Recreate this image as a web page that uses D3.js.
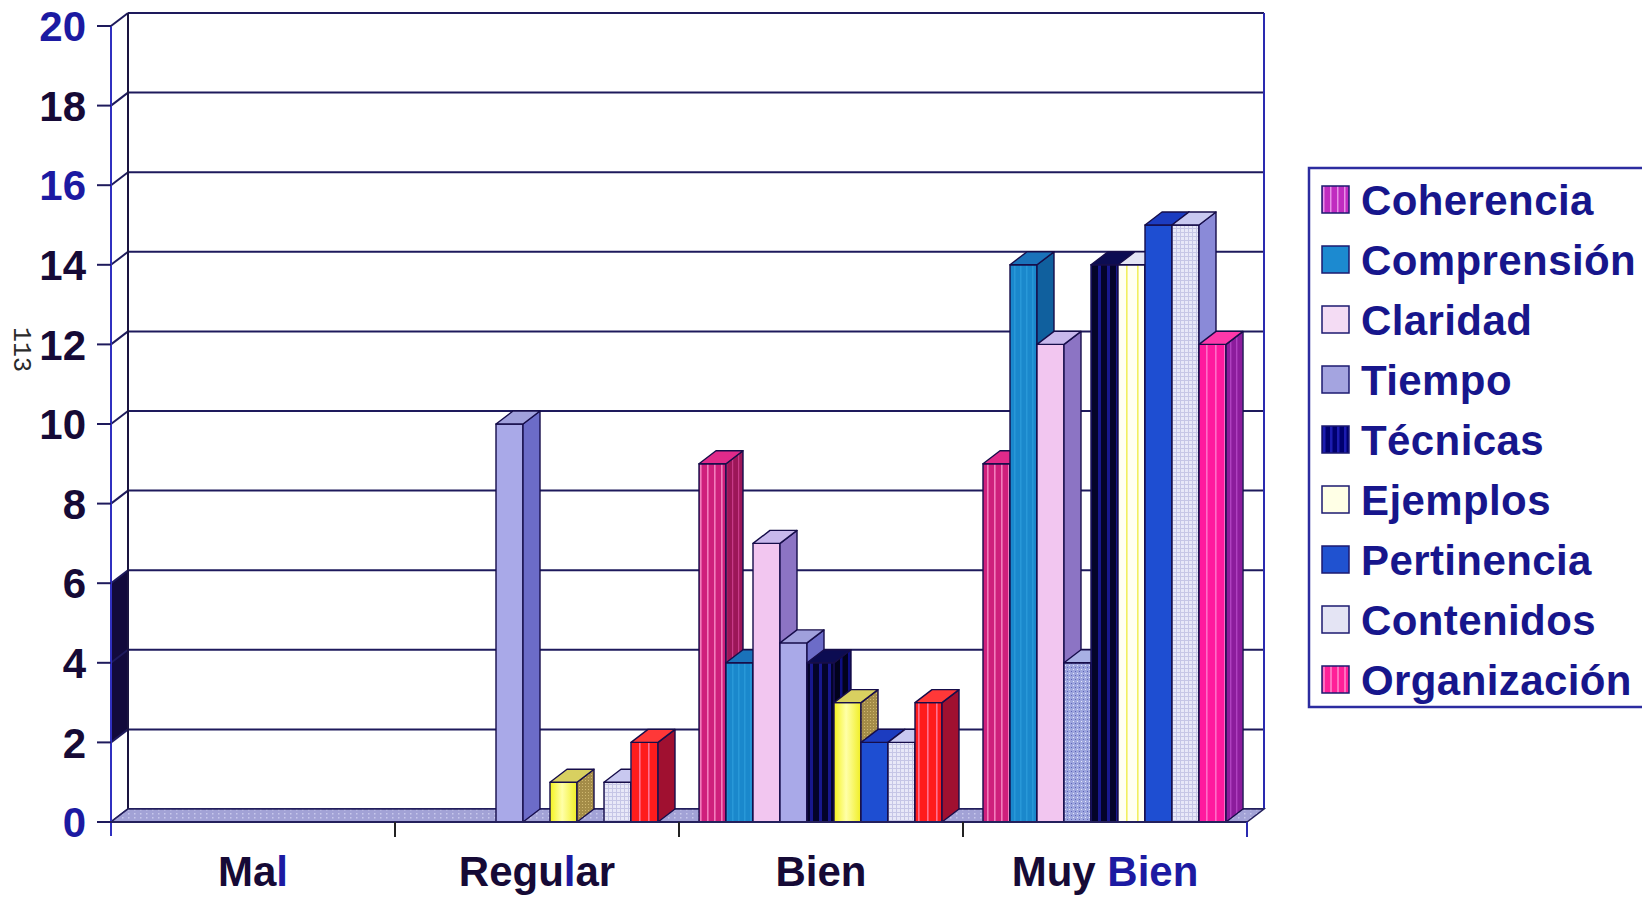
<!DOCTYPE html>
<html>
<head>
<meta charset="utf-8">
<script src="https://cdn.jsdelivr.net/npm/d3@7"></script>
<style>
  html, body { margin: 0; padding: 0; background: #fff; }
  svg { display: block; }
</style>
</head>
<body>
<svg id="chart" width="1642" height="897"></svg>
<script>
// ---- data ----
const categories = ["Mal", "Regular", "Bien", "Muy Bien"];
const seriesNames = ["Coherencia", "Comprensión", "Claridad", "Tiempo", "Técnicas",
                     "Ejemplos", "Pertinencia", "Contenidos", "Organización"];
const coherencia   = [0, 0, 9, 9];
const comprension  = [0, 0, 4, 14];
const claridad     = [0, 0, 7, 12];
const tiempo       = [0, 10, 4.5, 4];
const tecnicas     = [0, 0, 4, 14];
const ejemplos     = [0, 1, 3, 14];
const pertinencia  = [0, 0, 2, 15];
const contenidos   = [0, 1, 2, 15];
const organizacion = [0, 2, 3, 12];
const yTickValues  = [0, 2, 4, 6, 8, 10, 12, 14, 16, 18, 20];
const wallBand     = [2, 6];   // shaded strip on the left wall

const values = [coherencia, comprension, claridad, tiempo, tecnicas,
                ejemplos, pertinencia, contenidos, organizacion];

// ---- styles ----
const INK = "#160d4a";
const seriesStyle = [
  { front: "url(#p-coh)",  side: "url(#p-coh-s)", top: "#e02a8a", legend: "url(#l-coh)" },
  { front: "url(#p-comp)", side: "#10609e",       top: "#1a72ba", legend: "#1c8ad0" },
  { front: "#f2c6f0",      side: "#8c74c4",       top: "#c8b8ec", legend: "#f4dcf4" },
  { front: "#a9a9e8",      side: "#6c6cc8",       top: "#a0a0dc", legend: "#a4a4e0" },
  { front: "url(#p-tec)",  side: "url(#p-tec-s)", top: "#0c0c52", legend: "url(#l-tec)" },
  { front: "url(#g-ejem)", side: "url(#p-ejem-s)",top: "#d8d060", legend: "#ffffe6" },
  { front: "#1e4ed2",      side: "#1434a8",       top: "#1c3cc0", legend: "#2052d0" },
  { front: "url(#p-cont)", side: "#8a8ad8",       top: "#c8c8f0", legend: "#e4e4f4" },
  { front: "url(#p-org)",  side: "#a01030",       top: "#ff3838", legend: "url(#l-org)" }
];
// some series take a different tint in the last category
const categoryStyle = {
  "Muy Bien": {
    "Tiempo":       { front: "url(#p-tie-mb)", side: "#6c6cc8", top: "#a8b0e4" },
    "Ejemplos":     { front: "url(#p-ejem-mb)", side: "#c8c880", top: "#e4e4f4" },
    "Organización": { front: "url(#p-org-mb)", side: "url(#p-org-mb-s)", top: "#ff38aa" }
  }
};
function styleFor(si, cat) {
  const o = categoryStyle[cat] && categoryStyle[cat][seriesNames[si]];
  return Object.assign({}, seriesStyle[si], o || {});
}

// ---- geometry ----
const DX = 17, DY = -13;               // depth offset of the 3-D walls
const x = d3.scaleBand().domain(categories).range([111, 1247]);
const inner = d3.scaleBand().domain(seriesNames).range([20, 263]);
const y = d3.scaleLinear().domain([0, 20]).range([822, 26]);

const svg = d3.select("#chart");
const defs = svg.append("defs");

function stripes(id, base, stripe, period, sw, offset = 0) {
  const p = defs.append("pattern").attr("id", id)
    .attr("patternUnits", "userSpaceOnUse").attr("width", period).attr("height", 8);
  p.append("rect").attr("width", period).attr("height", 8).attr("fill", base);
  p.append("rect").attr("x", offset).attr("width", sw).attr("height", 8).attr("fill", stripe);
}
stripes("p-coh", "#cf1f7c", "#f27cbc", 7, 1.6);
stripes("p-coh-s", "#9c1658", "#c83a88", 6, 1.2);
stripes("p-comp", "#1a88cc", "#2898d8", 6, 1.5);
stripes("p-tec", "#04042a", "#18188e", 9, 3);
stripes("p-tec-s", "#02021c", "#0e0e80", 8, 2.5);
stripes("p-org", "#ff1c1c", "#ff7090", 9, 1.6);
stripes("p-org-mb", "#ff1a9e", "#ff6cc8", 9, 1.6);
stripes("p-org-mb-s", "#8c1c9c", "#b040c0", 6, 1.4);
stripes("p-ejem-mb", "#fffff2", "#f2f060", 11, 1.6, 4);
stripes("l-coh", "#c02cc0", "#e890e8", 7, 1.5);
stripes("l-tec", "#00006e", "#1c1cb0", 7, 2.5);
stripes("l-org", "#ff2098", "#ff70c0", 7, 2);

// dotted / gridded textures
(function () {
  const p = defs.append("pattern").attr("id", "p-cont")
    .attr("patternUnits", "userSpaceOnUse").attr("width", 4).attr("height", 4);
  p.append("rect").attr("width", 4).attr("height", 4).attr("fill", "#e8e8f8");
  p.append("rect").attr("width", 4).attr("height", 1).attr("fill", "#c6c6e6");
  p.append("rect").attr("width", 1).attr("height", 4).attr("fill", "#c6c6e6");

  const q = defs.append("pattern").attr("id", "p-tie-mb")
    .attr("patternUnits", "userSpaceOnUse").attr("width", 4).attr("height", 4);
  q.append("rect").attr("width", 4).attr("height", 4).attr("fill", "#9ea6de");
  q.append("rect").attr("x", 1).attr("y", 1).attr("width", 1).attr("height", 1).attr("fill", "#e4e8fa");
  q.append("rect").attr("x", 3).attr("y", 3).attr("width", 1).attr("height", 1).attr("fill", "#5c64b8");

  const f = defs.append("pattern").attr("id", "p-floor")
    .attr("patternUnits", "userSpaceOnUse").attr("width", 6).attr("height", 4);
  f.append("rect").attr("width", 6).attr("height", 4).attr("fill", "#a2a2d6");
  f.append("rect").attr("x", 2).attr("y", 1).attr("width", 1.5).attr("height", 1.5).attr("fill", "#c8c8ec");

  const s = defs.append("pattern").attr("id", "p-ejem-s")
    .attr("patternUnits", "userSpaceOnUse").attr("width", 3).attr("height", 3);
  s.append("rect").attr("width", 3).attr("height", 3).attr("fill", "#a48c48");
  s.append("rect").attr("width", 1).attr("height", 1).attr("fill", "#d0b870");

  const g = defs.append("linearGradient").attr("id", "g-ejem");
  g.append("stop").attr("offset", "0%").attr("stop-color", "#f4f21e");
  g.append("stop").attr("offset", "45%").attr("stop-color", "#ffffa8");
  g.append("stop").attr("offset", "100%").attr("stop-color", "#f0ee24");
})();

const [x0, x1] = x.range();
const y0 = y(0);

// ---- walls and gridlines ----
const walls = svg.append("g");
// shaded strip on the left wall
walls.append("path")
  .attr("d", `M${x0},${y(wallBand[1])} L${x0 + DX},${y(wallBand[1]) + DY} L${x0 + DX},${y(wallBand[0]) + DY} L${x0},${y(wallBand[0])} Z`)
  .attr("fill", "#120a3c");

yTickValues.forEach(t => {
  walls.append("line")
    .attr("x1", x0 + DX).attr("x2", x1 + DX)
    .attr("y1", y(t) + DY).attr("y2", y(t) + DY)
    .attr("stroke", "#1e1a5c").attr("stroke-width", 2);
  walls.append("line")
    .attr("x1", x0).attr("x2", x0 + DX)
    .attr("y1", y(t)).attr("y2", y(t) + DY)
    .attr("stroke", "#1e1a5c").attr("stroke-width", 2);
});
walls.append("line")
  .attr("x1", x0 + DX).attr("x2", x0 + DX)
  .attr("y1", y(20) + DY).attr("y2", y0 + DY)
  .attr("stroke", "#1a1440").attr("stroke-width", 2);
walls.append("line")
  .attr("x1", x1 + DX).attr("x2", x1 + DX)
  .attr("y1", y(20) + DY).attr("y2", y0 + DY)
  .attr("stroke", "#2a2ab0").attr("stroke-width", 2);

// floor
walls.append("path")
  .attr("d", `M${x0},${y0} L${x1},${y0} L${x1 + DX},${y0 + DY} L${x0 + DX},${y0 + DY} Z`)
  .attr("fill", "url(#p-floor)").attr("stroke", "#24205c").attr("stroke-width", 1.5);

// ---- bars ----
const bars = svg.append("g").attr("stroke", INK).attr("stroke-width", 1.4).attr("stroke-linejoin", "round");
categories.forEach((cat, ci) => {
  seriesNames.forEach((s, si) => {
    const v = values[si][ci];
    if (!(v > 0)) return;
    const xl = x(cat) + inner(s), xr = xl + inner.bandwidth();
    const yt = y(v);
    const st = styleFor(si, cat);
    const b = bars.append("g");
    b.append("rect").attr("x", xl).attr("y", yt)
      .attr("width", xr - xl).attr("height", y0 - yt).attr("fill", st.front);
    b.append("path")
      .attr("d", `M${xr},${y0} L${xr + DX},${y0 + DY} L${xr + DX},${yt + DY} L${xr},${yt} Z`)
      .attr("fill", st.side);
    b.append("path")
      .attr("d", `M${xl},${yt} L${xr},${yt} L${xr + DX},${yt + DY} L${xl + DX},${yt + DY} Z`)
      .attr("fill", st.top);
  });
});

// ---- axes ----
const axes = svg.append("g");
// vertical value axis
axes.append("line").attr("x1", x0).attr("x2", x0).attr("y1", y(20)).attr("y2", y0 + 14)
  .attr("stroke", "#3030c0").attr("stroke-width", 2);
// category axis
axes.append("line").attr("x1", x0 - 12).attr("x2", x1).attr("y1", y0).attr("y2", y0)
  .attr("stroke", "#24205c").attr("stroke-width", 2);
categories.slice(1).map(c => x(c)).concat([x1]).forEach((xx, i, arr) => {
  axes.append("line").attr("x1", xx).attr("x2", xx).attr("y1", y0).attr("y2", y0 + 15)
    .attr("stroke", i === arr.length - 1 ? "#2a2ab0" : "#222").attr("stroke-width", 2);
});

const tickBlue = new Set([0, 16, 20]);
yTickValues.forEach(t => {
  axes.append("line").attr("x1", x0 - 14).attr("x2", x0).attr("y1", y(t)).attr("y2", y(t))
    .attr("stroke", "#1e1a5c").attr("stroke-width", 2);
  axes.append("text")
    .attr("x", 86).attr("y", y(t)).attr("dy", "0.36em")
    .attr("text-anchor", "end")
    .attr("font-family", "'Liberation Sans', Arial, sans-serif")
    .attr("font-weight", "bold").attr("font-size", 42)
    .attr("fill", tickBlue.has(t) ? "#1c1aa2" : "#160a36")
    .text(t);
});

// category labels (a few letters print in the lighter blue)
const labelParts = {
  "Mal": [["Ma", "#160a36"], ["l", "#1c1aa2"]],
  "Regular": [["Regu", "#160a36"], ["l", "#1c1aa2"], ["ar", "#160a36"]],
  "Bien": [["Bien", "#160a36"]],
  "Muy Bien": [["Muy ", "#160a36"], ["Bien", "#1c1aa2"]]
};
categories.forEach(c => {
  const t = axes.append("text")
    .attr("x", x(c) + x.bandwidth() / 2).attr("y", 886)
    .attr("text-anchor", "middle")
    .attr("font-family", "'Liberation Sans', Arial, sans-serif")
    .attr("font-weight", "bold").attr("font-size", 42);
  labelParts[c].forEach(([txt, col]) => t.append("tspan").attr("fill", col).text(txt));
});

// ---- legend ----
const legend = svg.append("g");
legend.append("rect").attr("x", 1309).attr("y", 168).attr("width", 360).attr("height", 539)
  .attr("fill", "#fff").attr("stroke", "#2c2ca0").attr("stroke-width", 2.5);
seriesNames.forEach((s, i) => {
  const cy = 200 + i * 60;
  legend.append("rect").attr("x", 1322).attr("y", cy - 14).attr("width", 27).attr("height", 27)
    .attr("fill", seriesStyle[i].legend).attr("stroke", "#1c1a70").attr("stroke-width", 1.5);
  legend.append("text").attr("x", 1361).attr("y", cy + 15)
    .attr("font-family", "'Liberation Sans', Arial, sans-serif")
    .attr("font-weight", "bold").attr("font-size", 42)
    .attr("letter-spacing", 0.4)
    .attr("fill", "#17168c").text(s);
});

// page number in the margin
svg.append("text")
  .attr("transform", "translate(14,327) rotate(90)")
  .attr("font-family", "'Liberation Mono', 'Courier New', monospace")
  .attr("font-size", 25).attr("fill", "#2a2a2a")
  .text("113");
</script>
</body>
</html>
